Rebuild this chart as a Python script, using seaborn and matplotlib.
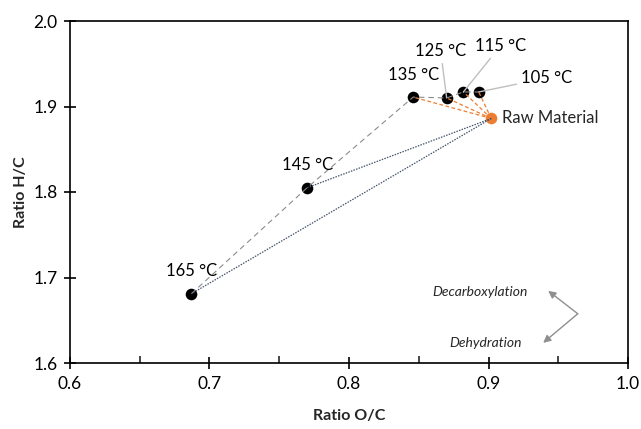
import matplotlib
matplotlib.use("Agg")
import matplotlib.pyplot as plt
import seaborn as sns
import pandas as pd

# ---- data ----
temps = ["105 °C", "115 °C", "125 °C", "135 °C", "145 °C", "165 °C"]
oc = [0.893, 0.882, 0.870, 0.846, 0.770, 0.687]
hc = [1.917, 1.917, 1.910, 1.911, 1.805, 1.681]
raw_label = "Raw Material"
raw_oc = [0.902]
raw_hc = [1.886]
x_ticks = [0.6, 0.7, 0.8, 0.9, 1.0]
y_ticks = [1.6, 1.7, 1.8, 1.9, 2.0]
x_title = "Ratio O/C"
y_title = "Ratio H/C"
arrow_texts = ["Decarboxylation", "Dehydration"]

sns.set_style("white")
plt.rcParams["font.family"] = ["Lato", "DejaVu Sans"]

df = pd.DataFrame({"temp": temps, "oc": oc, "hc": hc})
raw = pd.DataFrame({"label": [raw_label], "oc": raw_oc, "hc": raw_hc})

fig = plt.figure(figsize=(6.41, 4.29), dpi=100)
ax = fig.add_axes([70 / 641, 1 - 363 / 429, 558 / 641, 342 / 429])

ORANGE = "#ED7D31"
GRAY = "#8C8C8C"
BLUE = "#44546A"

# connecting lines
order = df.iloc[::-1]
ax.plot(order["oc"], order["hc"], color=GRAY, lw=0.8, dashes=(5, 3.5), zorder=3)
for i in range(4):
    ax.plot([raw_oc[0], oc[i]], [raw_hc[0], hc[i]], color=ORANGE, lw=0.9,
            dashes=(3, 2), zorder=3)
for i in (4, 5):
    ax.plot([raw_oc[0], oc[i]], [raw_hc[0], hc[i]], color=BLUE, lw=0.9,
            dashes=(1.2, 1.0), zorder=3)

sns.scatterplot(data=df, x="oc", y="hc", color="black", s=70, edgecolor="black",
                linewidth=0, ax=ax, zorder=2, legend=False)
sns.scatterplot(data=raw, x="oc", y="hc", color=ORANGE, s=70, edgecolor=ORANGE,
                linewidth=0, ax=ax, zorder=2, legend=False)

# labels
offsets = {
    "105 °C": (68, 14, True),
    "115 °C": (37, 46, True),
    "125 °C": (-6, 47, True),
    "135 °C": (0, 22, False),
    "145 °C": (0, 23, False),
    "165 °C": (0, 23, False),
}
for t, x, y in zip(temps, oc, hc):
    dx, dy, leader = offsets[t]
    kw = {}
    if leader:
        kw["arrowprops"] = dict(arrowstyle="-", color="#BFBFBF", lw=1,
                                shrinkA=1, shrinkB=0)
    ax.annotate(t, xy=(x, y), xytext=(dx, dy), textcoords="offset pixels",
                ha="center", va="center", fontsize=12, color="black", **kw)
ax.annotate(raw_label, xy=(raw_oc[0], raw_hc[0]), xytext=(11, 0),
            textcoords="offset pixels", ha="left", va="center", fontsize=12)

# direction arrows
vertex = (0.910, 0.144)
for head in [(0.857, 0.211), (0.848, 0.059)]:
    ax.annotate("", xy=head, xytext=vertex, xycoords="axes fraction",
                textcoords="axes fraction",
                arrowprops=dict(arrowstyle="-|>", color="#8F8F8F", lw=1,
                                mutation_scale=11, shrinkA=0, shrinkB=0))
ax.text(0.821, 0.208, arrow_texts[0], transform=ax.transAxes, ha="right",
        va="center", fontsize=10, style="italic")
ax.text(0.810, 0.059, arrow_texts[1], transform=ax.transAxes, ha="right",
        va="center", fontsize=10, style="italic")

# axes
ax.set_xlim(x_ticks[0], x_ticks[-1])
ax.set_ylim(y_ticks[0], y_ticks[-1])
ax.set_xticks(x_ticks)
ax.set_yticks(y_ticks)
ax.set_xticklabels([f"{v:.1f}" for v in x_ticks])
ax.set_yticklabels([f"{v:.1f}" for v in y_ticks])
ax.set_xticks([0.65, 0.75, 0.85, 0.95], minor=True)
ax.tick_params(axis="x", which="major", direction="inout", length=9, width=1.2,
               pad=5, labelsize=12.5, colors="black", bottom=True)
ax.tick_params(axis="x", which="minor", direction="in", length=5, width=1.2,
               bottom=True)
ax.tick_params(axis="y", which="major", direction="inout", length=8, width=1.2,
               pad=5, labelsize=12.5, colors="black", left=True)
for s in ax.spines.values():
    s.set_visible(True)
    s.set_color("black")
    s.set_linewidth(1.2)
ax.set_xlabel(x_title, fontsize=11.5, fontweight="bold", labelpad=12)
ax.set_ylabel(y_title, fontsize=11.5, fontweight="bold", labelpad=4)

fig.savefig("out.png", dpi=100)
